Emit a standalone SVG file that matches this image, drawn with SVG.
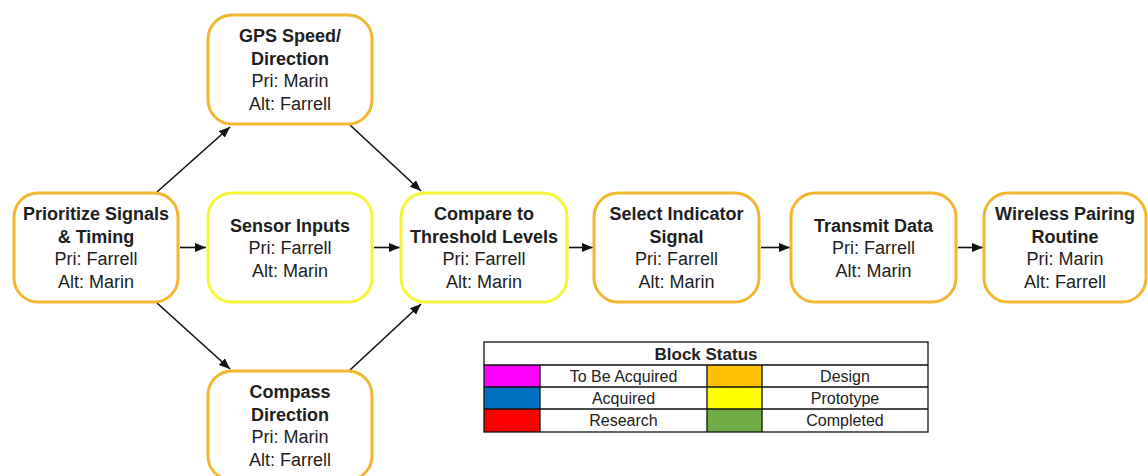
<svg xmlns="http://www.w3.org/2000/svg" width="1148" height="476" viewBox="0 0 1148 476">
<style>
.box{fill:#fff;stroke-width:3}
.design{stroke:#F2B730}
.proto{stroke:#F7F53A}
.t{font-family:"Liberation Sans",Arial,sans-serif;font-size:18px;fill:#1e1e1e;text-anchor:middle}
.b{font-weight:bold}
.conn{stroke:#111;stroke-width:1.6;fill:none;marker-end:url(#ah)}
.lg{font-family:"Liberation Sans",Arial,sans-serif;font-size:16px;fill:#222;text-anchor:middle}
.grid{stroke:#111;stroke-width:1.3;fill:none}
</style>
<defs>
<marker id="ah" markerUnits="userSpaceOnUse" markerWidth="12" markerHeight="10" refX="11" refY="4.5" orient="auto">
<path d="M0,0 L11,4.5 L0,9 z" fill="#111"/>
</marker>
</defs>
<rect width="1148" height="476" fill="#fff"/>
<g id="connectors">
<path class="conn" d="M157,192 L230,127"/>
<path class="conn" d="M350,125 L421,191"/>
<path class="conn" d="M157,303 L230,369"/>
<path class="conn" d="M350,370 L421,304"/>
<path class="conn" d="M180,247.5 L206,247.5"/>
<path class="conn" d="M374,247.5 L400,247.5"/>
<path class="conn" d="M569,247.5 L593,247.5"/>
<path class="conn" d="M761,247.5 L790,247.5"/>
<path class="conn" d="M958,247.5 L983,247.5"/>
</g>
<g id="prioritize">
<rect class="box design" x="14" y="193" width="164" height="109" rx="24"/>
<text class="t b" x="96" y="220.25">Prioritize Signals</text>
<text class="t b" x="96" y="242.75">&amp; Timing</text>
<text class="t" x="96" y="265.25">Pri: Farrell</text>
<text class="t" x="96" y="287.75">Alt: Marin</text>
</g>
<g id="gps">
<rect class="box design" x="208" y="15" width="164" height="109" rx="24"/>
<text class="t b" x="290" y="42.25">GPS Speed/</text>
<text class="t b" x="290" y="64.75">Direction</text>
<text class="t" x="290" y="87.25">Pri: Marin</text>
<text class="t" x="290" y="109.75">Alt: Farrell</text>
</g>
<g id="sensor">
<rect class="box proto" x="208" y="193" width="164" height="109" rx="24"/>
<text class="t b" x="290" y="231.5">Sensor Inputs</text>
<text class="t" x="290" y="254">Pri: Farrell</text>
<text class="t" x="290" y="276.5">Alt: Marin</text>
</g>
<g id="compass">
<rect class="box design" x="208" y="371" width="164" height="109" rx="24"/>
<text class="t b" x="290" y="398.25">Compass</text>
<text class="t b" x="290" y="420.75">Direction</text>
<text class="t" x="290" y="443.25">Pri: Marin</text>
<text class="t" x="290" y="465.75">Alt: Farrell</text>
</g>
<g id="compare">
<rect class="box proto" x="401" y="193" width="166" height="109" rx="24"/>
<text class="t b" x="484" y="220.25">Compare to</text>
<text class="t b" x="484" y="242.75">Threshold Levels</text>
<text class="t" x="484" y="265.25">Pri: Farrell</text>
<text class="t" x="484" y="287.75">Alt: Marin</text>
</g>
<g id="select">
<rect class="box design" x="594" y="193" width="165" height="109" rx="24"/>
<text class="t b" x="676.5" y="220.25">Select Indicator</text>
<text class="t b" x="676.5" y="242.75">Signal</text>
<text class="t" x="676.5" y="265.25">Pri: Farrell</text>
<text class="t" x="676.5" y="287.75">Alt: Marin</text>
</g>
<g id="transmit">
<rect class="box design" x="791" y="193" width="165" height="109" rx="24"/>
<text class="t b" x="873.5" y="231.5">Transmit Data</text>
<text class="t" x="873.5" y="254">Pri: Farrell</text>
<text class="t" x="873.5" y="276.5">Alt: Marin</text>
</g>
<g id="wireless">
<rect class="box design" x="984" y="193" width="162" height="109" rx="24"/>
<text class="t b" x="1065" y="220.25">Wireless Pairing</text>
<text class="t b" x="1065" y="242.75">Routine</text>
<text class="t" x="1065" y="265.25">Pri: Marin</text>
<text class="t" x="1065" y="287.75">Alt: Farrell</text>
</g>
<g id="legend">
<rect x="484" y="365" width="56" height="22" fill="#F0F"/>
<rect x="484" y="387" width="56" height="22" fill="#0070C0"/>
<rect x="484" y="409" width="56" height="23" fill="#F00"/>
<rect x="707" y="365" width="55" height="22" fill="#FFC000"/>
<rect x="707" y="387" width="55" height="22" fill="#FF0"/>
<rect x="707" y="409" width="55" height="23" fill="#70AD47"/>
<rect class="grid" x="484" y="342" width="444" height="90"/>
<path class="grid" d="M484,365 H928 M484,387 H928 M484,409 H928 M540,365 V432 M707,365 V432 M762,365 V432"/>
<text class="lg b" x="706" y="359.5" style="font-size:17px">Block Status</text>
<text class="lg" x="623.5" y="381.5">To Be Acquired</text>
<text class="lg" x="623.5" y="403.5">Acquired</text>
<text class="lg" x="623.5" y="426">Research</text>
<text class="lg" x="845" y="381.5">Design</text>
<text class="lg" x="845" y="403.5">Prototype</text>
<text class="lg" x="845" y="426">Completed</text>
</g>
</svg>
